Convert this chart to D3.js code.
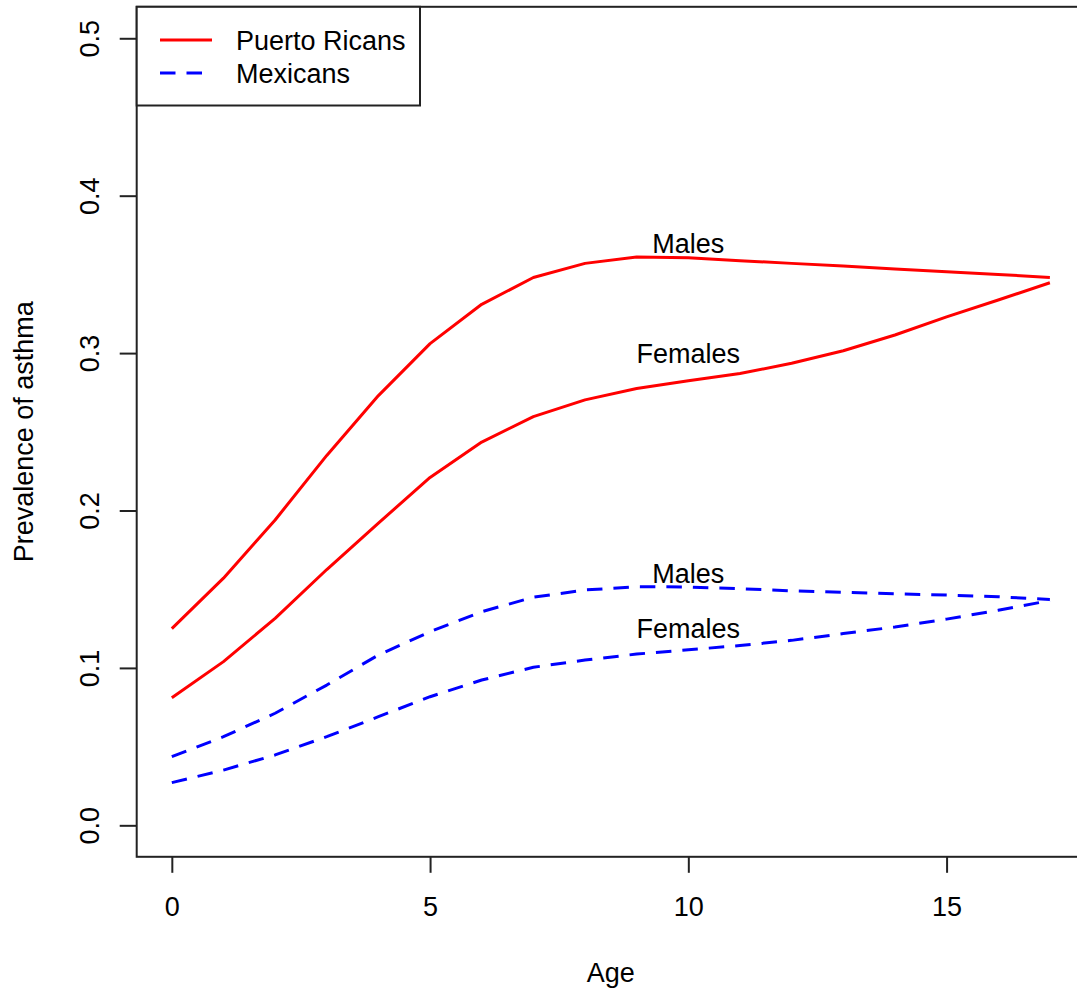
<!DOCTYPE html>
<html>
<head>
<meta charset="utf-8">
<script src="https://cdn.jsdelivr.net/npm/d3@7"></script>
<style>
  html, body { margin: 0; padding: 0; background: #fff; overflow: hidden; }
  svg { display: block; font-family: "Liberation Sans", Arial, Helvetica, sans-serif; }
</style>
</head>
<body>
<svg id="chart" width="1077" height="992"></svg>
<script>
// Age in years
const ages = [0, 1, 2, 3, 4, 5, 6, 7, 8, 9, 10, 11, 12, 13, 14, 15, 16, 17];

// Fitted prevalence of asthma by age
const prMales   = [0.125, 0.157, 0.194, 0.235, 0.273, 0.306, 0.331, 0.348, 0.357, 0.361, 0.3605, 0.3587, 0.357, 0.3553, 0.3534, 0.3517, 0.350, 0.348];
const prFemales = [0.081, 0.104, 0.1315, 0.1625, 0.192, 0.221, 0.2435, 0.2596, 0.2703, 0.2775, 0.2825, 0.287, 0.2935, 0.3015, 0.3115, 0.323, 0.3337, 0.3447];
const mxMales   = [0.0436, 0.0563, 0.0712, 0.0891, 0.1082, 0.123, 0.1357, 0.1449, 0.1495, 0.1516, 0.1514, 0.1503, 0.149, 0.148, 0.1471, 0.1463, 0.1452, 0.1435];
const mxFemales = [0.0271, 0.0351, 0.0447, 0.0563, 0.069, 0.0817, 0.0923, 0.1004, 0.105, 0.1088, 0.1115, 0.1142, 0.1175, 0.1218, 0.126, 0.131, 0.1366, 0.1428];

// Axis ticks
const xTicks = [0, 5, 10, 15];
const yTicks = [0.0, 0.1, 0.2, 0.3, 0.4, 0.5];

// Legend entries and in-plot labels
const legendLabels = ["Puerto Ricans", "Mexicans"];
const noteText = ["Males", "Females", "Males", "Females"];
const noteAge  = [10, 10, 10, 10];
const noteY    = [0.37, 0.30, 0.16, 0.125];

const RED = "#ff0000", BLUE = "#0000ff";
const DASH = "15.5,11";
const FONT = 27;

const svg = d3.select("#chart");

// Plot region (the right edge of the frame extends just past the window)
const plotLeft = 136.7, plotRight = 1085, plotTop = 6.8, plotBottom = 856.8;

const x = d3.scaleLinear().domain([-0.68, 17.68]).range([plotLeft, plotRight]);
const y = d3.scaleLinear().domain([-0.02, 0.52]).range([plotBottom, plotTop]);

// Series
const series = [
  { values: prMales,   color: RED,  dash: null },
  { values: prFemales, color: RED,  dash: null },
  { values: mxMales,   color: BLUE, dash: DASH },
  { values: mxFemales, color: BLUE, dash: DASH }
];

const line = d3.line().x(d => x(d[0])).y(d => y(d[1]));

svg.append("g").selectAll("path")
  .data(series)
  .join("path")
  .attr("d", s => line(ages.map((a, i) => [a, s.values[i]])))
  .attr("fill", "none")
  .attr("stroke", s => s.color)
  .attr("stroke-width", 3)
  .attr("stroke-linejoin", "round")
  .attr("stroke-dasharray", s => s.dash);

// Curve labels
svg.append("g").selectAll("text")
  .data(noteText)
  .join("text")
  .attr("x", (d, i) => x(noteAge[i]))
  .attr("y", (d, i) => y(noteY[i]) + 9.7)
  .attr("text-anchor", "middle")
  .attr("font-size", FONT)
  .attr("fill", "#000")
  .text(d => d);

// Y axis
const yAxis = svg.append("g")
  .attr("transform", `translate(${plotLeft},0)`)
  .call(d3.axisLeft(y).tickValues(yTicks).tickSize(17).tickFormat(d3.format(".1f")));
yAxis.select(".domain").remove();
yAxis.selectAll("line").attr("stroke", "#222").attr("stroke-width", 2);
yAxis.selectAll("text")
  .attr("x", 0).attr("dy", null)
  .attr("text-anchor", "middle")
  .attr("transform", "translate(-38,0) rotate(-90)")
  .attr("font-size", FONT)
  .attr("font-family", "Liberation Sans, Arial, sans-serif")
  .attr("fill", "#000");

// X axis
const xAxis = svg.append("g")
  .attr("transform", `translate(0,${plotBottom})`)
  .call(d3.axisBottom(x).tickValues(xTicks).tickSize(16).tickFormat(d3.format("d")));
xAxis.select(".domain").remove();
xAxis.selectAll("line").attr("stroke", "#222").attr("stroke-width", 2);
xAxis.selectAll("text")
  .attr("y", 59.2).attr("dy", null)
  .attr("font-size", FONT)
  .attr("font-family", "Liberation Sans, Arial, sans-serif")
  .attr("fill", "#000");

// Frame
svg.append("rect")
  .attr("x", plotLeft).attr("y", plotTop)
  .attr("width", plotRight - plotLeft).attr("height", plotBottom - plotTop)
  .attr("fill", "none").attr("stroke", "#222").attr("stroke-width", 2);

// Axis titles
svg.append("text")
  .attr("x", (plotLeft + plotRight) / 2).attr("y", 981.7)
  .attr("text-anchor", "middle").attr("font-size", FONT)
  .text("Age");
svg.append("text")
  .attr("transform", `translate(33,${(plotTop + plotBottom) / 2}) rotate(-90)`)
  .attr("text-anchor", "middle").attr("font-size", FONT)
  .text("Prevalence of asthma");

// Legend
const legend = svg.append("g");
legend.append("rect")
  .attr("x", plotLeft).attr("y", plotTop)
  .attr("width", 420 - plotLeft).attr("height", 105.5 - plotTop)
  .attr("fill", "#fff").attr("stroke", "#222").attr("stroke-width", 2);
const legendStyle = [{ color: RED, dash: null }, { color: BLUE, dash: DASH }];
const legendRowY = [40, 73];
legend.selectAll("line.key")
  .data(legendLabels)
  .join("line")
  .attr("class", "key")
  .attr("x1", 160).attr("x2", 212)
  .attr("y1", (d, i) => legendRowY[i]).attr("y2", (d, i) => legendRowY[i])
  .attr("stroke", (d, i) => legendStyle[i].color)
  .attr("stroke-width", 3)
  .attr("stroke-dasharray", (d, i) => legendStyle[i].dash);
legend.selectAll("text")
  .data(legendLabels)
  .join("text")
  .attr("x", 236)
  .attr("y", (d, i) => legendRowY[i] + 9.7)
  .attr("font-size", FONT)
  .text(d => d);
</script>
</body>
</html>
